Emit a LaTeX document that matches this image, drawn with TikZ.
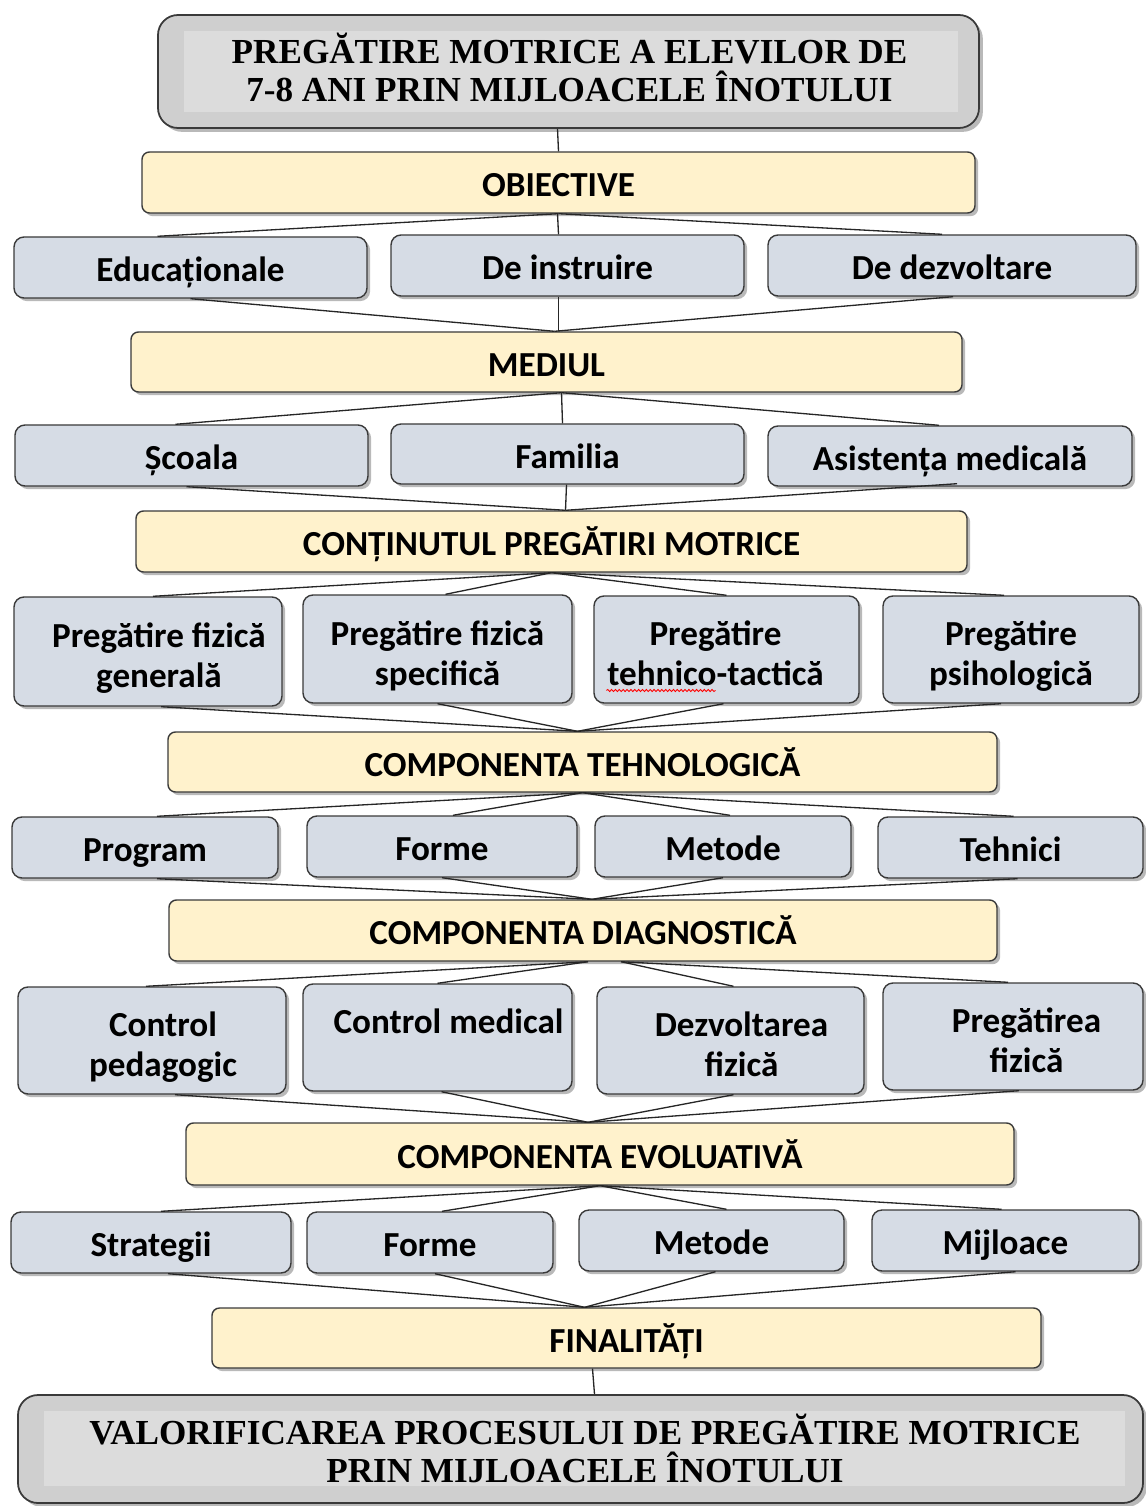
\documentclass[tikz,border=0pt]{standalone}
\usepackage{fontspec}
\setmainfont{Carlito}
\newfontfamily\ttlfont{Liberation Serif}
\usepackage{xcolor}
\usetikzlibrary{positioning,calc,shadows,decorations.pathmorphing}
\definecolor{boxgray}{HTML}{D6DCE5}
\definecolor{boxyel}{HTML}{FFF2CC}
\definecolor{ttlout}{HTML}{CFCFCF}
\definecolor{ttlin}{HTML}{DCDCDC}
\definecolor{edge}{HTML}{3A3A3A}
\newcommand{\shr}{\hspace*{0.44cm}}
\newcommand{\shl}{\hspace*{-0.44cm}}
\tikzset{
  sz/.style 2 args={minimum width=#1*0.02cm, minimum height=#2*0.02cm},
  gbox/.style={draw=edge, line width=0.8pt, fill=boxgray, rounded corners=0.2cm, inner sep=0pt, align=center,
    font=\fontsize{20}{23}\selectfont\bfseries, drop shadow={shadow xshift=1.8pt, shadow yshift=-1.8pt, opacity=0.55},
    execute at begin node={\rule{0pt}{20.5pt}}, execute at end node={\rule[-4.5pt]{0pt}{4.5pt}}},
  two/.style={execute at begin node={\rule{0pt}{46pt}}},
  ybox/.style={gbox, fill=boxyel, rounded corners=0.15cm},
  tbox/.style={draw=edge, line width=1pt, fill=ttlout, rounded corners=0.4cm, inner sep=0pt,
    drop shadow={shadow xshift=2.2pt, shadow yshift=-2.2pt, opacity=0.55}},
  tin/.style={fill=ttlin, inner sep=0pt},
  ttl/.style={inner sep=0pt, align=center, font=\ttlfont\fontsize{20}{21.6}\selectfont\bfseries},
  link/.style={draw=black!85, line width=0.75pt}
}
\begin{document}
\begin{tikzpicture}[x=0.02cm,y=-0.02cm]
\useasboundingbox (0,0) rectangle (1145,1506);

\node[tbox, sz={821}{113}] (top) at (568.5,71.5) {};
\node[tin, sz={774}{81}] (topin) at (571,71.5) {};
\node[ttl] (toptxt) at (569.5,67.5) {PREGĂTIRE MOTRICE A ELEVILOR DE\\7-8 ANI PRIN MIJLOACELE ÎNOTULUI};

\node[ybox, sz={833}{61}] (obj) at (558.5,182.5) {OBIECTIVE};
\node[gbox, sz={353}{61}] (edu) at (190.5,267.5) {Educaționale};
\node[gbox, sz={353}{61}] (ins) at (567.5,265.5) {De instruire};
\node[gbox, sz={368}{61}] (dez) at (952,265.5) {De dezvoltare};

\node[ybox, sz={831}{60}] (med) at (546.5,362) {MEDIUL};
\node[gbox, sz={353}{61}] (sco) at (191.5,455.5) {Școala};
\node[gbox, sz={353}{60}] (fam) at (567.5,454) {Familia};
\node[gbox, sz={364}{60}] (asi) at (950,456) {Asistența medicală};

\node[ybox, sz={831}{61}] (con) at (551.5,541.5) {CONȚINUTUL PREGĂTIRI MOTRICE};
\node[gbox, two, sz={268}{109}] (pfg) at (148,651.5) {\shr Pregătire fizică\\\shr generală};
\node[gbox, two, sz={269}{108}] (pfs) at (437.5,649) {Pregătire fizică\\specifică};
\node[gbox, two, sz={265}{107}] (ptt) at (726.5,649.5) {\shl Pregătire\\\shl tehnico-tactică};
\node[gbox, two, sz={256}{107}] (pps) at (1011,649.5) {Pregătire\\psihologică};
\draw[red, line width=0.5pt, decorate, decoration={snake, amplitude=0.6pt, segment length=2.2pt}]
  ($(ptt.center)+(-120,41)$) -- ($(ptt.center)+(-11,41)$);

\node[ybox, sz={829}{60}] (teh) at (582.5,762) {COMPONENTA TEHNOLOGICĂ};
\node[gbox, sz={266}{61}] (prg) at (145,847.5) {Program};
\node[gbox, sz={270}{61}] (fo1) at (442,846.5) {Forme};
\node[gbox, sz={256}{61}] (me1) at (723,846.5) {Metode};
\node[gbox, sz={265}{61}] (tec) at (1010.5,847.5) {Tehnici};

\node[ybox, sz={828}{61}] (dia) at (583,930.5) {COMPONENTA DIAGNOSTICĂ};
\node[gbox, two, sz={268}{107}] (cpe) at (152,1040.5) {\shr Control\\\shr pedagogic};
\node[gbox, two, sz={269}{107}] (cme) at (437.5,1037.5) {\shr Control medical\\~};
\node[gbox, two, sz={267}{107}] (dfi) at (730.5,1040.5) {\shr Dezvoltarea\\\shr fizică};
\node[gbox, two, sz={260}{107}] (pfi) at (1013,1036.5) {\shr\hspace*{0.1cm}Pregătirea\\\shr\hspace*{0.1cm}fizică};

\node[ybox, sz={828}{62}] (evo) at (600,1154) {COMPONENTA EVOLUATIVĂ};
\node[gbox, sz={280}{61}] (str) at (151,1242.5) {Strategii};
\node[gbox, sz={246}{61}] (fo2) at (430,1242.5) {Forme};
\node[gbox, sz={265}{61}] (me2) at (711.5,1240.5) {Metode};
\node[gbox, sz={267}{61}] (mij) at (1005.5,1240.5) {Mijloace};

\node[ybox, sz={829}{60}] (fin) at (626.5,1338) {FINALITĂȚI};
\node[tbox, sz={1125}{108}] (bot) at (580.5,1449) {};
\node[tin, sz={1081}{75}] (botin) at (584.5,1448.5) {};
\node[ttl] (bottxt) at (585,1448.5) {VALORIFICAREA PROCESULUI DE PREGĂTIRE MOTRICE\\PRIN MIJLOACELE ÎNOTULUI};

\draw[link] ($(top.south)+(-11,0)$) -- (obj.north);

\draw[link] (obj.south) -- ($(edu.north)+(-33,0)$);
\draw[link] ($(obj.south)+(-1,0)$) -- ($(ins.north)+(-9,0)$);
\draw[link] (obj.south) -- ($(dez.north)+(-10,0)$);
\draw[link] (edu.south) -- ($(med.north)+(8,0)$);
\draw[link] ($(ins.south)+(-9,0)$) -- ($(med.north)+(12,0)$);
\draw[link] ($(dez.south)+(1,0)$) -- ($(med.north)+(8,0)$);

\draw[link] ($(med.south)+(15,0)$) -- ($(sco.north)+(-16,0)$);
\draw[link] ($(med.south)+(15,0)$) -- ($(fam.north)+(-5,0)$);
\draw[link] ($(med.south)+(15,0)$) -- ($(asi.north)+(-11,0)$);
\draw[link] ($(sco.south)+(-5,0)$) -- ($(con.north)+(14,0)$);
\draw[link] ($(fam.south)+(-1,0)$) -- ($(con.north)+(14,0)$);
\draw[link] ($(asi.south)+(7,-3)$) -- ($(con.north)+(14,0)$);

\draw[link] (con.south) -- ($(pfg.north)+(5,0)$);
\draw[link] (con.south) -- ($(pfs.north)+(8,0)$);
\draw[link] (con.south) -- (ptt.north);
\draw[link] (con.south) -- ($(pps.north)+(-7,0)$);
\draw[link] ($(pfg.south)+(13,0)$) -- ($(teh.north)+(-5,0)$);
\draw[link] (pfs.south) -- ($(teh.north)+(-5,0)$);
\draw[link] ($(ptt.south)+(-3,0)$) -- ($(teh.north)+(-5,0)$);
\draw[link] ($(pps.south)+(-10,0)$) -- ($(teh.north)+(-5,0)$);

\draw[link] (teh.south) -- ($(prg.north)+(12,0)$);
\draw[link] (teh.south) -- ($(fo1.north)+(11,0)$);
\draw[link] (teh.south) -- ($(me1.north)+(7,0)$);
\draw[link] (teh.south) -- ($(tec.north)+(3,0)$);
\draw[link] ($(prg.south)+(12,0)$) -- ($(dia.north)+(9,0)$);
\draw[link] (fo1.south) -- ($(dia.north)+(9,0)$);
\draw[link] (me1.south) -- ($(dia.north)+(9,0)$);
\draw[link] ($(tec.south)+(7,0)$) -- ($(dia.north)+(9,0)$);

\draw[link] ($(dia.south)+(5,0)$) -- ($(cpe.north)+(-6,0)$);
\draw[link] ($(dia.south)+(5,0)$) -- (cme.north);
\draw[link] ($(dia.south)+(38,0)$) -- ($(dfi.north)+(3,0)$);
\draw[link] ($(dia.south)+(38,0)$) -- ($(pfi.north)+(-5,0)$);
\draw[link] ($(cpe.south)+(23,0)$) -- ($(evo.north)+(-12,0)$);
\draw[link] ($(cme.south)+(4,0)$) -- ($(evo.north)+(-12,0)$);
\draw[link] ($(dfi.south)+(3,0)$) -- ($(evo.north)+(-12,0)$);
\draw[link] ($(pfi.south)+(6,0)$) -- ($(evo.north)+(-12,0)$);

\draw[link] (evo.south) -- ($(str.north)+(10,0)$);
\draw[link] (evo.south) -- ($(fo2.north)+(12,0)$);
\draw[link] (evo.south) -- ($(me2.north)+(15,0)$);
\draw[link] (evo.south) -- ($(mij.north)+(-4,0)$);
\draw[link] ($(str.south)+(17,0)$) -- ($(fin.north)+(-42,0)$);
\draw[link] ($(fo2.south)+(5,0)$) -- ($(fin.north)+(-42,0)$);
\draw[link] ($(me2.south)+(4,0)$) -- ($(fin.north)+(-42,0)$);
\draw[link] ($(mij.south)+(10,0)$) -- ($(fin.north)+(-42,0)$);

\draw[link] ($(fin.south)+(-34,0)$) -- ($(bot.north)+(14,0)$);
\end{tikzpicture}
\end{document}
